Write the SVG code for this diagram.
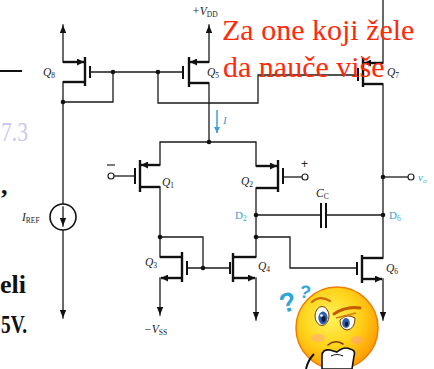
<svg xmlns="http://www.w3.org/2000/svg" width="434" height="369" viewBox="0 0 434 369">
  <style>
    .w { fill: none; stroke: #1a1a1a; stroke-width: 1.3; stroke-linecap: square; }
    .thick { fill: none; stroke: #111; stroke-width: 2.4; }
    .gate { fill: none; stroke: #111; stroke-width: 2; }
    .dot { fill: #111; }
    .term { fill: #fff; stroke: #222; stroke-width: 1.2; }
    .lbl { font-family: "Liberation Serif", serif; font-style: italic; font-size: 11.5px; fill: #222; }
    .sub { font-size: 7.5px; font-style: normal; }
    .cy { font-family: "Liberation Serif", serif; font-size: 11px; fill: #3d9fd8; }
    .red { font-family: "Liberation Serif", serif; font-size: 30px; fill: #ff2a0a; }
    .page { font-family: "Liberation Serif", serif; font-weight: bold; font-size: 26px; fill: #111; }
  </style>
  <defs>
    <marker id="sup" viewBox="0 0 10 8" refX="10" refY="4" markerWidth="8" markerHeight="6.5" markerUnits="userSpaceOnUse" orient="auto">
      <path d="M0,0 L10,4 L0,8 z" fill="#111"/>
    </marker>
    <marker id="src" viewBox="0 0 10 10" refX="10" refY="5" markerWidth="8" markerHeight="7" markerUnits="userSpaceOnUse" orient="auto">
      <path d="M0,0 L10,5 L0,10 z" fill="#111"/>
    </marker>
    <marker id="cyarrow" viewBox="0 0 10 10" refX="10" refY="5" markerWidth="7" markerHeight="6" markerUnits="userSpaceOnUse" orient="auto">
      <path d="M0,0 L10,5 L0,10 z" fill="#3d9fd8"/>
    </marker>
    <radialGradient id="face" cx="0.42" cy="0.38" r="0.65">
      <stop offset="0" stop-color="#fff45a"/>
      <stop offset="0.55" stop-color="#ffd21a"/>
      <stop offset="1" stop-color="#ff9a00"/>
    </radialGradient>
  </defs>

  <!-- page fragments on the left -->
  <g id="page-text">
    <line x1="0" y1="71" x2="22" y2="71" stroke="#111" stroke-width="2"/>
    <text x="1" y="141" font-family="Liberation Serif, serif" font-size="27" fill="#c9c8f4" textLength="27" lengthAdjust="spacingAndGlyphs">7.3</text>
    <text x="1" y="194" class="page">,</text>
    <text x="0" y="293" class="page">eli</text>
    <text x="1" y="333" class="page" textLength="26" lengthAdjust="spacingAndGlyphs">5V.</text>
  </g>

  <!-- connecting wires -->
  <g id="connectors">
    <!-- supply arrows -->
    <line class="w" x1="63" y1="62" x2="63" y2="25" marker-end="url(#sup)"/>
    <line class="w" x1="209" y1="62" x2="209" y2="25" marker-end="url(#sup)"/>
    <line class="w" x1="383" y1="0" x2="383" y2="63"/>
    <line class="w" x1="63" y1="230" x2="63" y2="318" marker-end="url(#sup)"/>
    <line class="w" x1="160" y1="278" x2="160" y2="315" marker-end="url(#sup)"/>
    <line class="w" x1="256" y1="278" x2="256" y2="320" marker-end="url(#sup)"/>
    <line class="w" x1="383" y1="279" x2="383" y2="320" marker-end="url(#sup)"/>

    <!-- left reference branch -->
    <polyline class="w" points="63,82 63,204"/>
    <polyline class="w" points="63,102 113,102 113,72"/>
    <line class="w" x1="90" y1="72" x2="183" y2="72"/>
    <polyline class="w" points="158,72 158,103 258,103 258,75 358,75"/>

    <!-- tail current source to differential pair -->
    <line class="w" x1="209" y1="83" x2="209" y2="142"/>
    <polyline class="w" points="160,165 160,142 256,142 256,166"/>
    <line class="w" x1="160" y1="187" x2="160" y2="257"/>
    <line class="w" x1="256" y1="188" x2="256" y2="257"/>
    <polyline class="w" points="160,237 203,237 203,268"/>
    <line class="w" x1="187" y1="268" x2="230" y2="268"/>
    <polyline class="w" points="256,237 290,237 290,268 357,268"/>

    <!-- compensation capacitor -->
    <line class="w" x1="256" y1="215" x2="321" y2="215"/>
    <line class="w" x1="326" y1="215" x2="383" y2="215"/>
    <line stroke="#111" stroke-width="2" x1="321" y1="203" x2="321" y2="228"/>
    <line stroke="#111" stroke-width="2" x1="326" y1="203" x2="326" y2="228"/>

    <!-- output stage column -->
    <line class="w" x1="383" y1="84" x2="383" y2="258"/>
    <line class="w" x1="383" y1="177" x2="408" y2="177"/>

    <!-- inputs -->
    <line class="w" x1="135" y1="176" x2="114" y2="176"/>
    <line class="w" x1="283" y1="177" x2="302" y2="177"/>

    <!-- junction dots -->
    <circle class="dot" cx="63" cy="102" r="2.3"/>
    <circle class="dot" cx="113" cy="72" r="2.3"/>
    <circle class="dot" cx="158" cy="72" r="2.3"/>
    <circle class="dot" cx="209" cy="142" r="2.3"/>
    <circle class="dot" cx="160" cy="237" r="2.3"/>
    <circle class="dot" cx="256" cy="215" r="2.3"/>
    <circle class="dot" cx="256" cy="237" r="2.3"/>
    <circle class="dot" cx="203" cy="268" r="2.3"/>
    <circle class="dot" cx="383" cy="177" r="2.3"/>
    <circle class="dot" cx="383" cy="215" r="2.3"/>

    <!-- terminals -->
    <circle class="term" cx="111" cy="176" r="3"/>
    <circle class="term" cx="305" cy="177" r="3"/>
    <circle class="term" cx="411" cy="177" r="3"/>
  </g>

  <!-- transistors -->
  <g id="Q8">
    <line class="thick" x1="63" y1="62" x2="84" y2="62" marker-end="url(#src)"/>
    <line class="thick" x1="85" y1="57" x2="85" y2="86"/>
    <line class="gate" x1="90" y1="66" x2="90" y2="78"/>
    <line class="thick" x1="63" y1="82" x2="85" y2="82"/>
    <text class="lbl" x="43" y="76">Q<tspan class="sub" dy="2">8</tspan></text>
  </g>
  <g id="Q5">
    <line class="thick" x1="209" y1="62" x2="190" y2="62" marker-end="url(#src)"/>
    <line class="thick" x1="189" y1="57" x2="189" y2="87"/>
    <line class="gate" x1="183" y1="66" x2="183" y2="79"/>
    <line class="thick" x1="189" y1="83" x2="209" y2="83"/>
    <text class="lbl" x="207" y="76">Q<tspan class="sub" dy="2">5</tspan></text>
    <text class="lbl" x="192" y="15">+V<tspan class="sub" dy="2">DD</tspan></text>
  </g>
  <g id="Q7">
    <line class="thick" x1="383" y1="63" x2="364" y2="63" marker-end="url(#src)"/>
    <line class="thick" x1="363" y1="58" x2="363" y2="87"/>
    <line class="gate" x1="358" y1="68" x2="358" y2="81"/>
    <line class="thick" x1="363" y1="84" x2="383" y2="84"/>
    <text class="lbl" x="387" y="76">Q<tspan class="sub" dy="2">7</tspan></text>
  </g>
  <g id="Q1">
    <line class="thick" x1="160" y1="165" x2="141" y2="165" marker-end="url(#src)"/>
    <line class="thick" x1="140" y1="160" x2="140" y2="192"/>
    <line class="gate" x1="135" y1="168" x2="135" y2="184"/>
    <line class="thick" x1="140" y1="187" x2="160" y2="187"/>
    <text class="lbl" x="162" y="186">Q<tspan class="sub" dy="2">1</tspan></text>
    <line x1="107" y1="165" x2="115" y2="165" stroke="#222" stroke-width="1.2"/>
  </g>
  <g id="Q2">
    <line class="thick" x1="256" y1="166" x2="277" y2="166" marker-end="url(#src)"/>
    <line class="thick" x1="278" y1="160" x2="278" y2="192"/>
    <line class="gate" x1="283" y1="168" x2="283" y2="184"/>
    <line class="thick" x1="256" y1="188" x2="278" y2="188"/>
    <text class="lbl" x="241" y="185">Q<tspan class="sub" dy="2">2</tspan></text>
    <text x="301" y="168" font-family="Liberation Sans, sans-serif" font-size="12" fill="#222">+</text>
  </g>
  <g id="Q3">
    <line class="thick" x1="160" y1="257" x2="182" y2="257"/>
    <line class="thick" x1="182" y1="252" x2="182" y2="282"/>
    <line class="gate" x1="187" y1="261" x2="187" y2="275"/>
    <line class="thick" x1="182" y1="278" x2="161" y2="278" marker-end="url(#src)"/>
    <text class="lbl" x="145" y="266">Q<tspan class="sub" dy="2">3</tspan></text>
    <text class="lbl" x="144" y="333">−V<tspan class="sub" dy="2">SS</tspan></text>
  </g>
  <g id="Q4">
    <line class="gate" x1="230" y1="262" x2="230" y2="274"/>
    <line class="thick" x1="233" y1="253" x2="233" y2="282"/>
    <line class="thick" x1="233" y1="257" x2="256" y2="257"/>
    <line class="thick" x1="233" y1="278" x2="255" y2="278" marker-end="url(#src)"/>
    <text class="lbl" x="258" y="270">Q<tspan class="sub" dy="2">4</tspan></text>
  </g>
  <g id="Q6">
    <line class="gate" x1="357" y1="262" x2="357" y2="275"/>
    <line class="thick" x1="362" y1="255" x2="362" y2="283"/>
    <line class="thick" x1="362" y1="258" x2="383" y2="258"/>
    <line class="thick" x1="362" y1="279" x2="382" y2="279" marker-end="url(#src)"/>
    <text class="lbl" x="386" y="272">Q<tspan class="sub" dy="2">6</tspan></text>
  </g>

  <g id="IREF">
    <circle cx="63" cy="217" r="13" fill="#fff" stroke="#111" stroke-width="1.6"/>
    <line class="w" x1="63" y1="207" x2="63" y2="226" marker-end="url(#sup)"/>
    <text class="lbl" x="22" y="221">I<tspan font-size="7.5" font-style="normal" dy="2">REF</tspan></text>
  </g>

  <g id="Cc">
    <text class="lbl" x="316" y="197">C<tspan class="sub" dy="2">C</tspan></text>
  </g>

  <!-- node annotations -->
  <g id="annotations">
    <line x1="217" y1="110" x2="217" y2="133" stroke="#3d9fd8" stroke-width="1.5" marker-end="url(#cyarrow)"/>
    <text class="cy" x="223" y="124" font-style="italic">I</text>
    <text class="cy" x="235" y="219">D<tspan font-size="7.5" dy="2">2</tspan></text>
    <text class="cy" x="389" y="219">D<tspan font-size="7.5" dy="2">6</tspan></text>
    <text class="cy" x="418" y="181" font-style="italic" font-size="10">v<tspan font-size="7" dy="2">o</tspan></text>
  </g>

  <!-- red note -->
  <g id="note">
    <text class="red" x="222" y="40">Za one koji žele</text>
    <text class="red" x="223" y="77">da nauče više</text>
  </g>

  <!-- thinking face -->
  <g id="thinker">
    <text x="279" y="311" font-family="Liberation Sans, sans-serif" font-weight="bold" font-size="27" fill="#2fa6d8" transform="rotate(-14 290 300)">?</text>
    <text x="300" y="298" font-family="Liberation Sans, sans-serif" font-weight="bold" font-size="18" fill="#2fa6d8" transform="rotate(10 305 290)">?</text>
    <circle cx="337" cy="328" r="41" fill="url(#face)" stroke="#ef7d00" stroke-width="1.5"/>
    <ellipse cx="318" cy="338" rx="7" ry="4" fill="#ff9f8a" opacity="0.5"/>
    <ellipse cx="357" cy="340" rx="6" ry="4" fill="#ff9f8a" opacity="0.5"/>
    <!-- left eye -->
    <ellipse cx="322" cy="316" rx="7" ry="9.5" fill="#fff" stroke="#7a3b00" stroke-width="1"/>
    <ellipse cx="323" cy="318" rx="4.6" ry="6.5" fill="#2d5fae"/>
    <ellipse cx="323.5" cy="319" rx="2" ry="3" fill="#0b1a3a"/>
    <circle cx="321.5" cy="315.5" r="1.3" fill="#fff"/>
    <!-- right eye -->
    <path d="M340,320 Q347,313 355,318 Q355,329 347,330 Q340,329 340,320 z" fill="#fff" stroke="#7a3b00" stroke-width="1"/>
    <ellipse cx="346" cy="323" rx="3.8" ry="5" fill="#2d5fae"/>
    <ellipse cx="346.5" cy="324" rx="1.6" ry="2.5" fill="#0b1a3a"/>
    <!-- brows -->
    <path d="M312,302 Q320,295 330,301" fill="none" stroke="#d2690a" stroke-width="2.2" stroke-linecap="round"/>
    <path d="M334,314 Q346,306 360,308" fill="none" stroke="#c85a00" stroke-width="3" stroke-linecap="round"/>
    <path d="M336,318 L356,313" fill="none" stroke="#d97a10" stroke-width="1.5"/>
    <!-- mouth -->
    <path d="M328,345 Q335,339 343,344" fill="none" stroke="#8a3a00" stroke-width="1.6" stroke-linecap="round"/>
    <!-- hand -->
    <path d="M322,369 L322,356 Q322,349 330,350 L337,352 Q344,346 350,349 Q356,350 354,356 L352,369 z" fill="#fff" stroke="#111" stroke-width="1.6"/>
    <path d="M331,356 Q337,353 343,356" fill="none" stroke="#111" stroke-width="1.2"/>
    <path d="M306,369 Q308,360 314,354" fill="none" stroke="#111" stroke-width="2"/>
  </g>
</svg>
